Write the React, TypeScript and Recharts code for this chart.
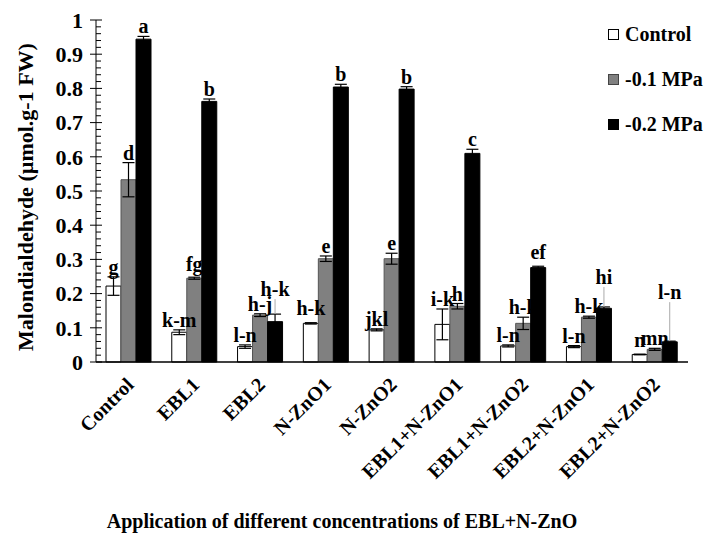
import React from 'react';
import { BarChart, Bar, XAxis, YAxis, ErrorBar, Legend } from 'recharts';

const CATEGORIES = ['Control', 'EBL1', 'EBL2', 'N-ZnO1', 'N-ZnO2', 'EBL1+N-ZnO1', 'EBL1+N-ZnO2', 'EBL2+N-ZnO1', 'EBL2+N-ZnO2'];

const CONTROL = [0.222, 0.087, 0.045, 0.113, 0.094, 0.11, 0.047, 0.045, 0.022];
const CONTROL_ERR = [0.027, 0.007, 0.005, 0.002, 0.003, 0.045, 0.003, 0.003, 0.001];
const MPA01 = [0.533, 0.245, 0.137, 0.302, 0.302, 0.163, 0.113, 0.131, 0.037];
const MPA01_ERR = [0.05, 0.003, 0.004, 0.008, 0.016, 0.008, 0.018, 0.003, 0.003];
const MPA02 = [0.944, 0.762, 0.118, 0.804, 0.798, 0.61, 0.276, 0.157, 0.059];
const MPA02_ERR = [0.008, 0.007, 0.022, 0.008, 0.007, 0.012, 0.004, 0.004, 0.002];

const CONTROL_LETTERS = ['g', 'k-m', 'l-n', 'h-k', 'jkl', 'i-k', 'l-n', 'l-n', 'n'];
const MPA01_LETTERS = ['d', 'fg', 'h-j', 'e', 'e', 'h', 'h-k', 'h-k', 'mn'];
const MPA02_LETTERS = ['a', 'b', 'h-k', 'b', 'b', 'c', 'ef', 'hi', 'l-n'];

const SERIES_NAMES = ['Control', '-0.1 MPa', '-0.2 MPa'];

const Y_TICKS = [0, 0.02, 0.04, 0.06, 0.08, 0.1, 0.12, 0.14, 0.16, 0.18, 0.2, 0.22, 0.24, 0.26, 0.28, 0.3, 0.32, 0.34, 0.36, 0.38, 0.4, 0.42, 0.44, 0.46, 0.48, 0.5, 0.52, 0.54, 0.56, 0.58, 0.6, 0.62, 0.64, 0.66, 0.68, 0.7, 0.72, 0.74, 0.76, 0.78, 0.8, 0.82, 0.84, 0.86, 0.88, 0.9, 0.92, 0.94, 0.96, 0.98, 1];

const Y_TITLE = 'Malondialdehyde (µmol.g-1 FW)';
const X_TITLE = 'Application of different concentrations of EBL+N-ZnO';

const FONT = '"Liberation Serif", "Times New Roman", serif';
const COLORS = ['#ffffff', '#808080', '#000000'];
const STROKES = ['#000000', '#555555', '#000000'];

const data = CATEGORIES.map((name, i) => ({
  name,
  control: CONTROL[i],
  controlErr: CONTROL_ERR[i],
  mpa01: MPA01[i],
  mpa01Err: MPA01_ERR[i],
  mpa02: MPA02[i],
  mpa02Err: MPA02_ERR[i],
}));

// layout nudges for letters that were moved up with a leader line in the original
const LABEL_LIFT: Record<string, number> = {
  'mpa02-2': 15,
  'mpa02-7': 20,
  'mpa02-8': 39,
  'control-8': 4,
  'control-3': 5,
  'mpa02-6': 4,
  'mpa01-1': 3,
};

const makeLabel = (key: string, letters: string[], errs: number[]) => (props: any) => {
  const { x, y, width, height, value, index } = props;
  if (value == null) return null;
  const pxPerUnit = value ? height / value : 0;
  const errTop = y - errs[index] * pxPerUnit;
  const lift = LABEL_LIFT[`${key}-${index}`] || 0;
  const cx = x + width / 2;
  const baseline = errTop - 3 - lift;
  return (
    <g key={`lbl-${key}-${index}`}>
      {lift >= 10 && (
        <line x1={cx} x2={cx} y1={baseline + 3} y2={errTop} stroke="#aaaaaa" strokeWidth={1} />
      )}
      <text x={cx} y={baseline} textAnchor="middle" fontFamily={FONT} fontWeight="bold" fontSize={20} fill="#000">
        {letters[index]}
      </text>
    </g>
  );
};

const isMajor = (v: number) => Math.abs(v * 10 - Math.round(v * 10)) < 1e-6;

const YTick = (props: any) => {
  const { x, y, payload } = props;
  const v = payload.value;
  if (isMajor(v)) {
    const label = v === 0 ? '0' : v === 1 ? '1' : String(Math.round(v * 10) / 10);
    return (
      <g>
        <line x1={x - 6} x2={x + 6} y1={y} y2={y} stroke="#000" strokeWidth={1} />
        <text x={x - 13} y={y} dy="0.35em" textAnchor="end" fontFamily={FONT} fontWeight="bold" fontSize={22} fill="#000">
          {label}
        </text>
      </g>
    );
  }
  return <line x1={x} x2={x + 5} y1={y} y2={y} stroke="#000" strokeWidth={1} />;
};

const XTick = (props: any) => {
  const { x, y, payload } = props;
  const ax = x + 6;
  const ay = y + 24;
  return (
    <text x={ax} y={ay} transform={`rotate(-45, ${ax}, ${ay})`} textAnchor="end" fontFamily={FONT} fontWeight="bold" fontSize={20} fill="#000">
      {payload.value}
    </text>
  );
};

const LegendContent = () => (
  <div style={{ position: 'relative', width: 108, height: 140, fontFamily: FONT }}>
    {SERIES_NAMES.map((n, i) => (
      <div
        key={n}
        style={{
          position: 'absolute',
          left: 0,
          top: 24 + i * 45,
          display: 'flex',
          alignItems: 'center',
          lineHeight: '20px',
          fontSize: 20,
          fontWeight: 'bold',
          whiteSpace: 'nowrap',
          color: '#000',
        }}
      >
        <span
          style={{
            display: 'inline-block',
            width: 9,
            height: 9,
            background: COLORS[i],
            border: `1px solid ${i === 1 ? '#444' : '#000'}`,
            marginRight: 6,
          }}
        />
        {n}
      </div>
    ))}
  </div>
);

export default function App() {
  return (
    <div style={{ position: 'absolute', left: 0, top: 0, width: 708, height: 540, background: '#fff' }}>
      <BarChart
        width={708}
        height={540}
        data={data}
        margin={{ top: 20, right: 20, left: 0, bottom: 0 }}
        barGap={0}
        barSize={15}
      >
        <XAxis
          dataKey="name"
          height={178}
          interval={0}
          tickSize={0}
          tickMargin={0}
          tickLine={false}
          axisLine={{ stroke: '#000', strokeWidth: 1.5 }}
          tick={<XTick />}
          label={{
            content: (p: any) => {
              const vb = p.viewBox;
              return (
                <text x={vb.x + vb.width / 2 - 50} y={528} textAnchor="middle" fontFamily={FONT} fontWeight="bold" fontSize={20} fill="#000">
                  {X_TITLE}
                </text>
              );
            },
          }}
        />
        <YAxis
          width={96}
          domain={[0, 1]}
          ticks={Y_TICKS}
          interval={0}
          tickSize={0}
          tickMargin={0}
          tickLine={false}
          axisLine={{ stroke: '#000', strokeWidth: 1 }}
          tick={<YTick />}
          label={{
            content: (p: any) => {
              const vb = p.viewBox;
              const cy = vb.y + vb.height / 2 + 6;
              return (
                <text x={33} y={cy} transform={`rotate(-90, 33, ${cy})`} textAnchor="middle" fontFamily={FONT} fontWeight="bold" fontSize={22} fill="#000">
                  {Y_TITLE}
                </text>
              );
            },
          }}
        />
        <Legend
          layout="vertical"
          align="center"
          verticalAlign="middle"
          wrapperStyle={{ top: 0, left: 608, width: 100, height: 140 }}
          content={<LegendContent />}
        />
        <Bar dataKey="control" name={SERIES_NAMES[0]} fill={COLORS[0]} stroke={STROKES[0]} strokeWidth={1} isAnimationActive={false} label={makeLabel('control', CONTROL_LETTERS, CONTROL_ERR)}>
          <ErrorBar dataKey="controlErr" width={6} stroke="#000" strokeWidth={1.2} />
        </Bar>
        <Bar dataKey="mpa01" name={SERIES_NAMES[1]} fill={COLORS[1]} stroke={STROKES[1]} strokeWidth={1} isAnimationActive={false} label={makeLabel('mpa01', MPA01_LETTERS, MPA01_ERR)}>
          <ErrorBar dataKey="mpa01Err" width={6} stroke="#000" strokeWidth={1.2} />
        </Bar>
        <Bar dataKey="mpa02" name={SERIES_NAMES[2]} fill={COLORS[2]} stroke={STROKES[2]} strokeWidth={1} isAnimationActive={false} label={makeLabel('mpa02', MPA02_LETTERS, MPA02_ERR)}>
          <ErrorBar dataKey="mpa02Err" width={6} stroke="#000" strokeWidth={1.2} />
        </Bar>
      </BarChart>
    </div>
  );
}
